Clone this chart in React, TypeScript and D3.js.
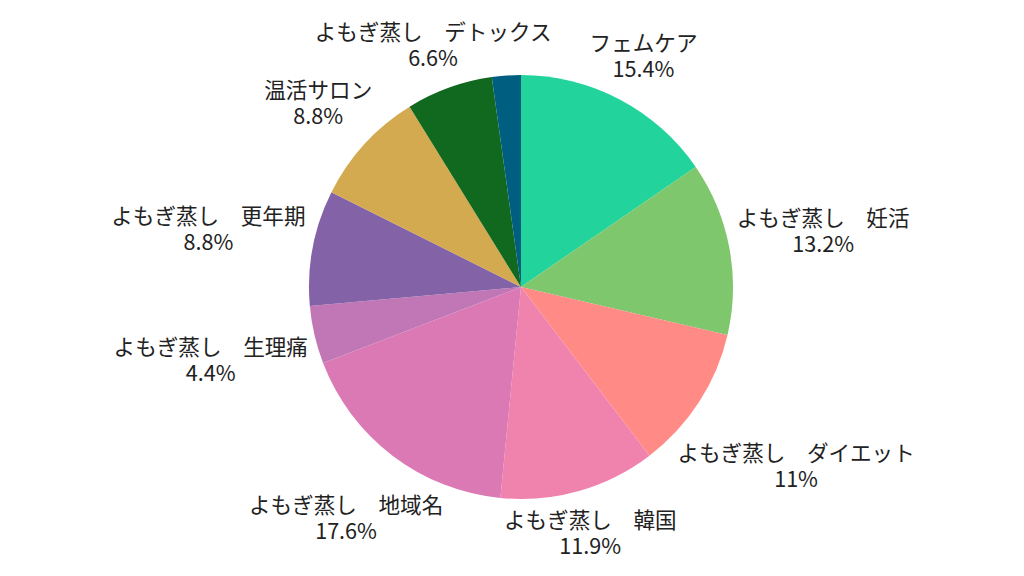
import { useEffect, useRef } from 'react'
import * as d3 from 'd3'

const categories = [
  'フェムケア',
  'よもぎ蒸し　妊活',
  'よもぎ蒸し　ダイエット',
  'よもぎ蒸し　韓国',
  'よもぎ蒸し　地域名',
  'よもぎ蒸し　生理痛',
  'よもぎ蒸し　更年期',
  '温活サロン',
  'よもぎ蒸し　デトックス',
  '',
]
const shares = [15.4, 13.2, 11, 11.9, 17.6, 4.4, 8.8, 8.8, 6.6, 2.2]
const colors = [
  '#22d49b', '#7ec76c', '#ff8a86', '#f083ad', '#db79b4',
  '#c177b5', '#8462a8', '#d4aa50', '#11681f', '#005f80',
]

const W = 1024
const H = 576
const CX = 521
const CY = 287
const R = 212
const LABEL_R = 218
const FONT = 21.6
const LINE = 26

const fmt = (v: number) => `${+v.toFixed(1)}%`

export default function App() {
  const ref = useRef<SVGSVGElement>(null)

  useEffect(() => {
    if (!ref.current) return
    const svg = d3.select(ref.current)
    svg.selectAll('*').remove()

    const data = categories.map((c, i) => ({ name: c, value: shares[i], color: colors[i] }))
    const pie = d3.pie<typeof data[0]>().value(d => d.value).sort(null)
    const arc = d3.arc<d3.PieArcDatum<typeof data[0]>>().innerRadius(0).outerRadius(R)
    const arcs = pie(data)

    const g = svg.append('g').attr('transform', `translate(${CX},${CY})`)

    g.selectAll('path')
      .data(arcs)
      .enter()
      .append('path')
      .attr('d', arc)
      .attr('fill', d => d.data.color)

    // ラベル
    arcs.filter(d => d.data.name !== '').forEach(d => {
      const mid = (d.startAngle + d.endAngle) / 2
      const ux = Math.sin(mid)
      const uy = -Math.cos(mid)

      const t = g.append('text')
        .attr('text-anchor', 'middle')
        .style('font-family', '"Noto Sans CJK JP", "Noto Sans", sans-serif')
        .style('font-size', `${FONT}px`)
        .attr('fill', '#222')
      const l1 = t.append('tspan').attr('x', 0).attr('dominant-baseline', 'central').text(d.data.name)
      const l2 = t.append('tspan').attr('x', 0).attr('dominant-baseline', 'central').text(fmt(d.data.value))

      const w = Math.max(
        (l1.node() as SVGTSpanElement).getComputedTextLength(),
        (l2.node() as SVGTSpanElement).getComputedTextLength()
      )
      const h = LINE * 2

      // 箱が円(LABEL_R)に接するまで外へ
      const dist = (dd: number) => {
        const dx = Math.max(Math.abs(ux * dd) - w / 2, 0)
        const dy = Math.max(Math.abs(uy * dd) - h / 2, 0)
        return Math.hypot(dx, dy)
      }
      let lo = 0
      let hi = 600
      for (let k = 0; k < 50; k++) {
        const m = (lo + hi) / 2
        if (dist(m) < LABEL_R) lo = m
        else hi = m
      }
      const cx = ux * lo
      const cy = uy * lo
      l1.attr('x', cx).attr('y', cy - LINE / 2)
      l2.attr('x', cx).attr('y', cy + LINE / 2)
    })
  }, [])

  return (
    <svg
      ref={ref}
      width={W}
      height={H}
      style={{ position: 'absolute', left: 0, top: 0, background: '#fff' }}
    />
  )
}
